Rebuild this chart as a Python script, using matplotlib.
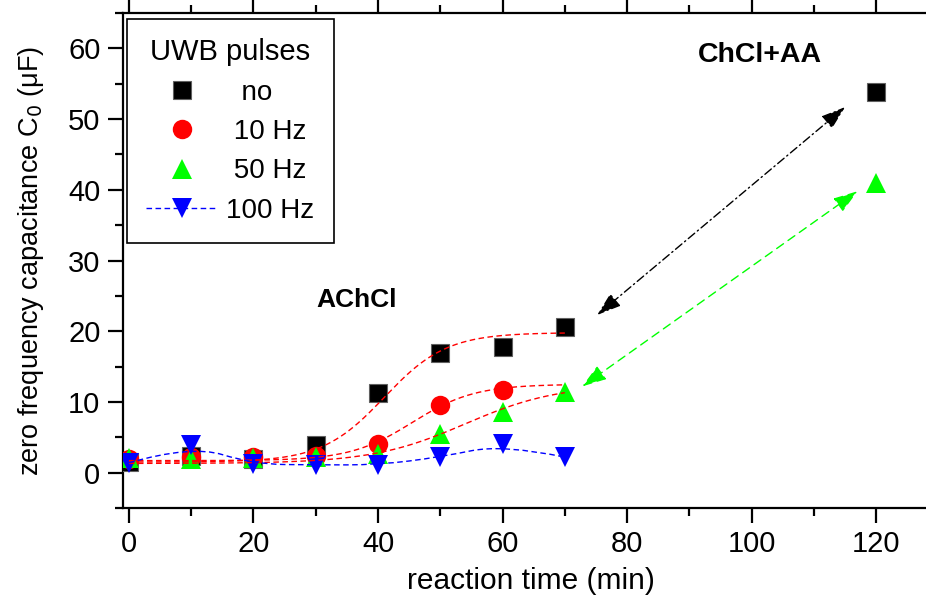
import numpy as np
import matplotlib
matplotlib.use("Agg")
import matplotlib.pyplot as plt
from matplotlib.lines import Line2D
from matplotlib.path import Path
from matplotlib.patches import PathPatch

plt.rcParams['font.family'] = ['Liberation Sans', 'DejaVu Sans']

# reaction time (min) and zero frequency capacitance C0 (uF)
t_no = [0, 10, 20, 30, 40, 50, 60, 70, 120]
c_no = [1.5, 2.4, 1.9, 3.9, 11.2, 16.9, 17.7, 20.6, 53.9]

t_10 = [0, 10, 20, 30, 40, 50, 60]
c_10 = [2.0, 2.2, 2.2, 2.4, 4.1, 9.6, 11.7]

t_50 = [0, 10, 20, 30, 40, 50, 60, 70, 120]
c_50 = [2.1, 2.0, 2.1, 2.2, 2.7, 5.4, 8.6, 11.4, 41.0]

t_100 = [0, 10, 20, 30, 40, 50, 60, 70]
c_100 = [1.4, 3.9, 1.2, 1.1, 1.1, 2.2, 4.0, 2.2]

# Boltzmann fit parameters (A1, A2, x0, dx) for the AChCl runs
fit_no = (1.5, 19.8, 41.0, 5.0)
fit_10 = (1.7, 12.5, 45.5, 5.0)
fit_50 = (1.3, 12.5, 54.0, 7.5)

labels = ['  no', ' 10 Hz', ' 50 Hz', '100 Hz']


def boltzmann(x, a1, a2, x0, dx):
    return a2 + (a1 - a2) / (1 + np.exp((x - x0) / dx))


fig = plt.figure(figsize=(9.26, 6.05), dpi=100)
ax = fig.add_axes([0.1325, 0.1603, 0.881, 0.8182])

ms = 14
ax.plot(t_no, c_no, 's', color='black', ms=13.5, mec='#606060', mew=0.8, zorder=3)
ax.plot(t_10, c_10, 'o', color='#ff0000', ms=ms, mew=0, zorder=3)
ax.plot(t_50, c_50, '^', color='#00ff00', ms=ms + 0.5, mew=0, zorder=3)
ax.plot(t_100, c_100, 'v', color='#0000ff', ms=ms + 0.5, mew=0, zorder=3)

# sigmoidal fits drawn over the markers
xf = np.linspace(0, 70, 300)
for p in (fit_no, fit_10, fit_50):
    ax.plot(xf, boltzmann(xf, *p), color='#ff0000', lw=1.0,
            dashes=(4, 2.5), zorder=4)

# smooth guide line through the 100 Hz points (quadratic B-spline)
pts = np.column_stack([t_100, c_100]).astype(float)
verts = [pts[0]]
codes = [Path.MOVETO]
for i in range(1, len(pts) - 1):
    end = pts[i + 1] if i == len(pts) - 2 else (pts[i] + pts[i + 1]) / 2
    verts += [pts[i], end]
    codes += [Path.CURVE3, Path.CURVE3]
ax.add_patch(PathPatch(Path(verts, codes), fill=False, edgecolor='#0000ff',
                       lw=1.0, linestyle=(0, (4, 2.5)), zorder=4))

# arrows linking the 70 min points to the ChCl+AA points
ax.annotate('', xy=(115, 51.7), xytext=(75.2, 22.3),
            arrowprops=dict(arrowstyle='<|-|>,head_length=0.75,head_width=0.25',
                            mutation_scale=20, color='black', lw=1.0,
                            linestyle=(0, (6, 2.5, 1, 2.5)),
                            shrinkA=0, shrinkB=0))
ax.annotate('', xy=(117, 39.8), xytext=(72.8, 12.2),
            arrowprops=dict(arrowstyle='<|-|>,head_length=0.75,head_width=0.25',
                            mutation_scale=20, color='#00ff00', lw=1.0,
                            linestyle=(0, (6, 4)),
                            shrinkA=0, shrinkB=0))

ax.text(36.6, 24.4, 'AChCl', fontsize=19, fontweight='bold',
        ha='center', va='center')
ax.text(101.4, 59.1, 'ChCl+AA', fontsize=20.5, fontweight='bold',
        ha='center', va='center')

ax.set_xlim(-1, 130)
ax.set_ylim(-5, 65)
ax.set_xticks(range(0, 121, 20))
ax.set_xticks(range(10, 131, 20), minor=True)
ax.set_yticks(range(0, 61, 10))
ax.set_yticks(range(-5, 66, 10), minor=True)
ax.tick_params(which='major', direction='out', length=11, width=1.6,
               labelsize=21, pad=5)
ax.tick_params(which='minor', direction='out', length=5.5, width=1.6)
ax.tick_params(which='both', top=True, labeltop=False)
ax.tick_params(axis='x', which='both', top=True, length=3)
ax.tick_params(axis='x', which='major', bottom=True, length=11)
ax.tick_params(axis='x', which='minor', bottom=True, length=5.5)
for side in ax.spines.values():
    side.set_linewidth(1.6)

ax.set_xlabel('reaction time (min)', fontsize=21.5, labelpad=6)
ax.set_ylabel('zero frequency capacitance C$_0$ (\u03bcF)', fontsize=19.5,
              labelpad=16)

handles = [
    Line2D([], [], ls='none', marker='s', color='black', ms=13.5,
           mec='#606060', mew=0.8),
    Line2D([], [], ls='none', marker='o', color='#ff0000', ms=ms, mew=0),
    Line2D([], [], ls='none', marker='^', color='#00ff00', ms=ms + 0.5, mew=0),
    Line2D([], [], ls=(0, (4, 2.5)), lw=1.0, marker='v', color='#0000ff',
           ms=ms + 0.5, mew=0),
]
leg = ax.legend(handles, labels, title='UWB pulses', loc='upper left',
                bbox_to_anchor=(0.0053, 0.9879), borderaxespad=0,
                fontsize=20, title_fontsize=21, handlelength=2.55,
                handletextpad=0.33, labelspacing=0.48, borderpad=0.7,
                fancybox=False, framealpha=1, edgecolor='black')
leg.get_frame().set_linewidth(1.2)

fig.savefig('out.png', dpi=100)
